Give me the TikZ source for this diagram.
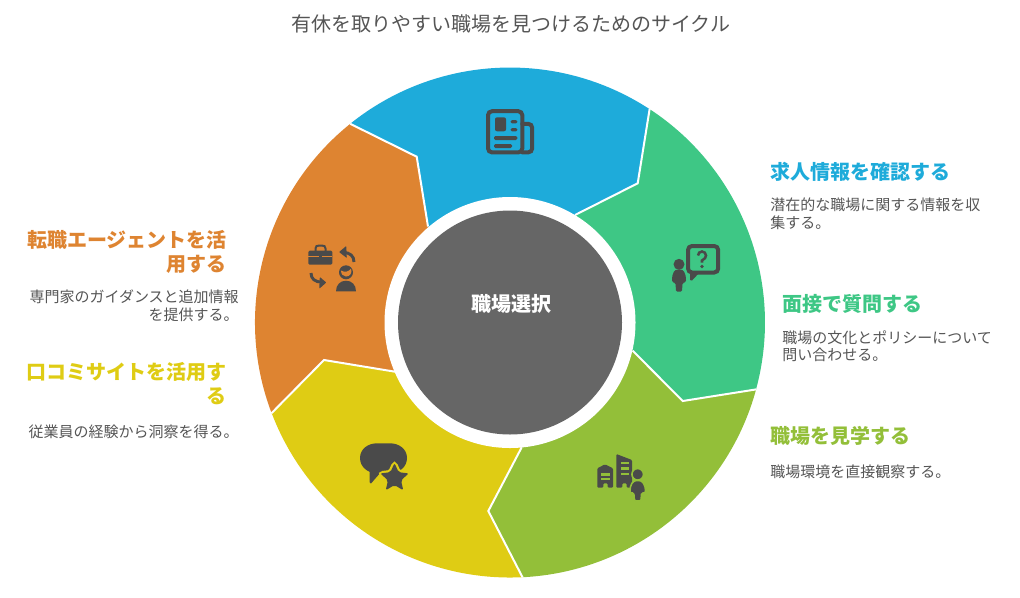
\documentclass[tikz,border=0pt]{standalone}
\usepackage{xcolor}
\usepackage{fontspec}
\setmainfont{Noto Sans CJK JP}
\usepackage{tikz}
\usetikzlibrary{calc}
\definecolor{cblue}{HTML}{1EABDA}
\definecolor{cgreen}{HTML}{3EC785}
\definecolor{clime}{HTML}{93BF39}
\definecolor{cyellow}{HTML}{DFCC14}
\definecolor{corange}{HTML}{DE8431}
\definecolor{chub}{HTML}{666666}
\definecolor{cicon}{HTML}{4A4A4A}
\definecolor{ctext}{HTML}{555555}
\tikzstyle{sep} = [draw = white, line width = 1.5pt, line join = miter]
\tikzstyle{ink} = [draw = cicon, line width = 3pt, rounded corners = 3pt, line cap = round]
\tikzstyle{inkfill} = [fill = cicon, draw = none]
\tikzstyle{head} = [draw=none, inner sep = 0, font = \fontsize{15}{18}\selectfont\bfseries]
\tikzstyle{desc} = [draw=none, inner sep = 0, text = ctext, font = \fontsize{11.25}{13}\selectfont]

\begin{document}
\begin{tikzpicture}[x=0.75pt, y=-0.75pt]
\useasboundingbox (0, 0) rectangle (1020, 597);

\coordinate (C) at (510, 322.5);
\coordinate (R1) at (428, 226.5);
\coordinate (N1) at (416.7, 156.7);
\coordinate (O1) at (350.2, 123.8);
\coordinate (R2) at (575, 215);
\coordinate (N2) at (637.7, 183.3);
\coordinate (O2) at (649.6, 109.1);
\coordinate (R3) at (632.7, 350.7);
\coordinate (N3) at (682.7, 401);
\coordinate (O3) at (756.1, 389.4);
\coordinate (R4) at (521.7, 447.3);
\coordinate (N4) at (488.3, 511);
\coordinate (O4) at (522.5, 577.2);
\coordinate (R5) at (395, 371.7);
\coordinate (N5) at (324, 360);
\coordinate (O5) at (271.6, 413.1);

% segments
\fill [cblue] (C) -- (R1) -- (N1) -- (O1) arc [start angle=-128.8, end angle=-56.8, radius=255] -- (N2) -- (R2) -- cycle;
\fill [cgreen] (C) -- (R2) -- (N2) -- (O2) arc [start angle=-56.8, end angle=15.2, radius=255] -- (N3) -- (R3) -- cycle;
\fill [clime] (C) -- (R3) -- (N3) -- (O3) arc [start angle=15.2, end angle=87.2, radius=255] -- (N4) -- (R4) -- cycle;
\fill [cyellow] (C) -- (R4) -- (N4) -- (O4) arc [start angle=87.2, end angle=159.2, radius=255] -- (N5) -- (R5) -- cycle;
\fill [corange] (C) -- (R5) -- (N5) -- (O5) arc [start angle=159.2, end angle=231.2, radius=255] -- (N1) -- (R1) -- cycle;
\draw [sep] (R1) -- (N1) -- (O1);
\draw [sep] (R2) -- (N2) -- (O2);
\draw [sep] (R3) -- (N3) -- (O3);
\draw [sep] (R4) -- (N4) -- (O4);
\draw [sep] (R5) -- (N5) -- (O5);
\fill [white] (C) circle (125.5);
\fill [chub] (C) circle (112);

% newspaper
\draw [ink] (488, 111.2) rectangle (522.3, 152.4);
\draw [ink] (522.3, 123.8) -- (532.2, 123.8) -- (532.2, 152.4) -- (522.3, 152.4);
\fill [inkfill, rounded corners = 1.5pt] (495, 117.3) rectangle (506, 131.3);
\fill [inkfill, rounded corners = 1pt] (510.7, 120) rectangle (517.3, 123.3);
\fill [inkfill, rounded corners = 1pt] (510.7, 128) rectangle (517.3, 131.3);
\fill [inkfill, rounded corners = 1pt] (494, 136) rectangle (517.3, 140);
\fill [inkfill, rounded corners = 1pt] (494, 144) rectangle (512, 148);

% person and question
\fill [inkfill] (679, 264.3) circle (5.5);
\fill [inkfill, rounded corners = 1pt] (672, 282) .. controls (672, 272) and (675, 269.5) .. (679, 269.5) .. controls (683, 269.5) and (686, 272) .. (686, 282) -- (682.5, 283) -- (682, 291.7) -- (676, 291.7) -- (675.5, 283) -- cycle;
\draw [ink] (688, 246) rectangle (718.2, 272.5);
\fill [inkfill] (690, 272) -- (690, 280) -- (692, 280.5) -- (700, 272) -- cycle;
\draw [draw = cicon, line width = 1.9pt] (698, 255.5) arc [start angle=180, end angle=400, radius=4] -- (702, 260.5) -- (702, 262.5);
\fill [inkfill] (702, 266.5) circle (1.8);

% buildings and person
\fill [inkfill, rounded corners = 0.8pt] (597.3, 468.3) -- (605, 464.3) -- (613, 468.3) -- (613, 487.7) -- (607.7, 487.7) -- (607.7, 483.3) -- (603.3, 483.3) -- (603.3, 487.7) -- (597.3, 487.7) -- cycle;
\fill [clime] (601, 473.3) rectangle (610, 475.5);
\fill [clime] (601, 477.7) rectangle (610, 479.9);
\fill [inkfill, rounded corners = 0.8pt] (616.3, 454) -- (632, 460) -- (632, 487.7) -- (626.7, 487.7) -- (626.7, 483.3) -- (622.3, 483.3) -- (622.3, 487.7) -- (616.3, 487.7) -- cycle;
\fill [clime] (620.7, 461.7) rectangle (629, 463.9);
\fill [clime] (620.7, 467.3) rectangle (629, 469.5);
\fill [clime] (620.7, 473) rectangle (629, 475.2);
\draw [clime, line width = 1.2pt, fill = cicon] (637.7, 474.3) circle (5.8);
\draw [clime, line width = 1.2pt, fill = cicon, rounded corners = 1pt] (630, 493) .. controls (630, 484) and (633, 480.5) .. (637.7, 480.5) .. controls (642.4, 480.5) and (645.5, 484) .. (645.5, 493) -- (641.6, 493) -- (641, 501) -- (634.4, 501) -- (633.8, 493) -- cycle;

% speech bubble and star
\fill [inkfill] (360, 458) .. controls (360, 449) and (368, 443.3) .. (377, 443.3) -- (390, 443.3) .. controls (399, 443.3) and (407, 449) .. (407, 458) .. controls (407, 467) and (399, 473.3) .. (390, 473.3) -- (377, 473.3) .. controls (368, 473.3) and (360, 467) .. (360, 458) -- cycle;
\fill [inkfill] (369.5, 468) -- (369.5, 482) -- (371, 483.5) -- (381, 472) -- cycle;
\draw [cyellow, line width = 4pt, fill = cyellow, rounded corners = 1.5pt] (394.5, 464) -- (398.3, 472.7) -- (407.8, 473.7) -- (400.7, 480) -- (402.7, 489.3) -- (394.5, 484.5) -- (386.3, 489.3) -- (388.3, 480) -- (381.2, 473.7) -- (390.7, 472.7) -- cycle;
\fill [inkfill, rounded corners = 1.5pt] (394.5, 463) -- (398.6, 472.2) -- (408.8, 473.4) -- (401, 480.3) -- (403.3, 490.3) -- (394.5, 485) -- (385.7, 490.3) -- (388, 480.3) -- (380.2, 473.4) -- (390.4, 472.2) -- cycle;

% briefcase, arrows and person
\draw [draw = cicon, line width = 1.5pt] (315.5, 251) -- (315.5, 248.5) .. controls (315.5, 246) and (317, 245.6) .. (319, 245.6) -- (322, 245.6) .. controls (324, 245.6) and (325.5, 246) .. (325.5, 248.5) -- (325.5, 251);
\fill [inkfill, rounded corners = 1pt] (308.3, 250.7) rectangle (332.3, 264.7);
\draw [corange, line width = 0.8pt] (308.3, 256.6) -- (332.3, 256.6);
\fill [inkfill] (318.8, 255) rectangle (321.8, 258.2);
\draw [draw = cicon, line width = 2.2pt] (354, 262) .. controls (354, 256) and (350, 252.5) .. (343, 252.3);
\fill [inkfill, rounded corners = 0.5pt] (339, 252) -- (346.3, 246) -- (346.8, 258) -- cycle;
\draw [draw = cicon, line width = 2.2pt] (311, 273) .. controls (311, 279) and (315, 282) .. (322, 282.2);
\fill [inkfill, rounded corners = 0.5pt] (326.3, 282.5) -- (319.8, 277) -- (319.3, 288.7) -- cycle;
\fill [inkfill] (346, 272.3) circle (7);
\fill [corange] (341, 270.5) .. controls (345, 273) and (349, 271.5) .. (351, 268.5) .. controls (352.5, 273) and (350, 276.5) .. (346, 276.5) .. controls (343, 276.5) and (341, 274) .. (341, 270.5) -- cycle;
\fill [inkfill] (336, 291.3) .. controls (336, 284.5) and (340.5, 280.7) .. (346, 280.7) .. controls (351.5, 280.7) and (356, 284.5) .. (356, 291.3) -- cycle;

% labels
\node [draw=none, inner sep = 0, text = ctext, font = \fontsize{15}{18}\selectfont] (title) at (510.5, 23.5) {有休を取りやすい職場を見つけるためのサイクル};
\node [head, text = white] (hub) at (511, 304) {職場選択};

\node [head, text = cblue, anchor = north west] (H1) at (770, 162) {求人情報を確認する};
\node [desc, anchor = north west, align = left] (D1) at (770, 198) {潜在的な職場に関する情報を収\\集する。};
\node [head, text = cgreen, anchor = north west] (H2) at (782, 294) {面接で質問する};
\node [desc, anchor = north west, align = left] (D2) at (782, 330) {職場の文化とポリシーについて\\問い合わせる。};
\node [head, text = clime, anchor = north west] (H3) at (770, 426) {職場を見学する};
\node [desc, anchor = north west, align = left] (D3) at (770, 465) {職場環境を直接観察する。};
\node [head, text = corange, anchor = north east, align = right] (H4) at (227, 230.5) {転職エージェントを活\\用する};
\node [desc, anchor = north east, align = right] (D4) at (239, 290) {専門家のガイダンスと追加情報\\を提供する。};
\node [head, text = cyellow, anchor = north east, align = right] (H5) at (227, 362) {口コミサイトを活用す\\る};
\node [desc, anchor = north east, align = right] (D5) at (239, 425) {従業員の経験から洞察を得る。};
\end{tikzpicture}
\end{document}
